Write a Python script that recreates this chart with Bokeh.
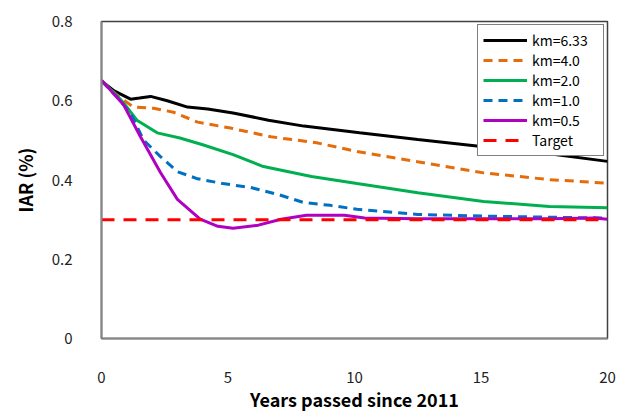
from bokeh.plotting import figure
from bokeh.models import FixedTicker, Range1d, Legend, LegendItem
from bokeh.embed import file_html
from bokeh.resources import INLINE

# Data
x_633 = [0, 0.5, 1.15, 1.5, 1.94, 2.6, 3.4, 4.2, 5.2, 6.6, 8.0, 10.2, 12.5, 15.1, 17.7, 20]
y_633 = [0.65, 0.625, 0.604, 0.607, 0.611, 0.600, 0.584, 0.579, 0.569, 0.551, 0.536, 0.519, 0.502, 0.484, 0.466, 0.447]

x_40 = [0, 0.6, 1.26, 2.06, 2.85, 3.8, 5.1, 6.7, 8.5, 10.1, 12.5, 15.1, 17.7, 20]
y_40 = [0.65, 0.615, 0.584, 0.581, 0.571, 0.546, 0.531, 0.509, 0.494, 0.472, 0.446, 0.418, 0.401, 0.392]

x_20 = [0, 0.5, 0.88, 1.4, 2.2, 3.1, 4.0, 5.2, 6.4, 8.3, 10.1, 12.5, 15.1, 17.7, 20]
y_20 = [0.65, 0.62, 0.594, 0.551, 0.519, 0.506, 0.489, 0.464, 0.434, 0.409, 0.391, 0.368, 0.346, 0.333, 0.330]

x_10 = [0, 0.6, 1.15, 1.66, 2.33, 3.0, 3.8, 4.8, 5.9, 7.0, 8.0, 9.05, 10.1, 12.5, 15.1, 17.7, 20]
y_10 = [0.65, 0.61, 0.569, 0.501, 0.459, 0.421, 0.403, 0.391, 0.381, 0.363, 0.343, 0.336, 0.326, 0.313, 0.309, 0.306, 0.304]

x_05 = [0, 0.88, 1.54, 2.33, 3.0, 3.9, 4.6, 5.2, 6.2, 7.1, 8.1, 9.6, 10.4, 12.5, 15.1, 17.7, 19.5, 20]
y_05 = [0.652, 0.589, 0.509, 0.419, 0.351, 0.301, 0.283, 0.278, 0.286, 0.301, 0.311, 0.311, 0.304, 0.302, 0.302, 0.302, 0.304, 0.301]

x_target = [0, 20]
y_target = [0.3, 0.3]

series = [
    ("km=6.33", x_633, y_633, "#000000", "solid"),
    ("km=4.0", x_40, y_40, "#E46C0A", "9 6"),
    ("km=2.0", x_20, y_20, "#00B050", "solid"),
    ("km=1.0", x_10, y_10, "#0070C0", "9 6"),
    ("km=0.5", x_05, y_05, "#B000C0", "solid"),
    ("Target", x_target, y_target, "#FF0000", "13 9"),
]

x_ticks = [0, 5, 10, 15, 20]
y_ticks = [0, 0.2, 0.4, 0.6, 0.8]
y_tick_labels = ["0", "0.2", "0.4", "0.6", "0.8"]

FONT = "Noto Sans CJK KR"

p = figure(width=631, height=414, output_backend="svg", toolbar_location=None,
           x_range=Range1d(0, 20), y_range=Range1d(0, 0.8),
           min_border_left=101, min_border_right=24, min_border_top=21, min_border_bottom=74)

items = []
for name, xs, ys, col, dash in series:
    r = p.line(xs, ys, line_color=col, line_width=3, line_dash=dash)
    items.append(LegendItem(label=name, renderers=[r]))

legend = Legend(items=items, location="top_right")
legend.margin = 3
legend.border_line_color = "#000000"
legend.border_line_width = 1.5
legend.label_text_font = FONT
legend.label_text_font_size = "14px"
legend.label_text_color = "#000000"
legend.glyph_width = 44
legend.glyph_height = 16
legend.label_height = 16
legend.label_width = 66
legend.spacing = 0
legend.padding = 5
legend.label_standoff = 5
legend.background_fill_alpha = 1
p.add_layout(legend)

p.xgrid.visible = False
p.ygrid.visible = False
p.outline_line_color = "#404040"
p.outline_line_width = 1.5

p.xaxis.ticker = FixedTicker(ticks=x_ticks)
p.yaxis.ticker = FixedTicker(ticks=y_ticks)
p.yaxis.major_label_overrides = {t: l for t, l in zip(y_ticks, y_tick_labels)}

for ax in (p.xaxis, p.yaxis):
    ax.axis_line_color = "#868686"
    ax.axis_line_width = 2
    ax.major_tick_line_color = None
    ax.minor_tick_line_color = None
    ax.major_label_text_font = FONT
    ax.major_label_text_font_size = "15px"
    ax.major_label_text_color = "#222222"
    ax.axis_label_text_font = FONT
    ax.axis_label_text_font_style = "bold"
    ax.axis_label_text_font_size = "18px"
    ax.axis_label_text_color = "#000000"

p.xaxis.axis_label = "Years passed since 2011"
p.yaxis.axis_label = "IAR (%)"
p.xaxis.major_label_standoff = 27
p.yaxis.major_label_standoff = 23
p.xaxis.axis_label_standoff = 0
p.yaxis.axis_label_standoff = 11

open("out.html", "w").write(file_html(p, INLINE))
